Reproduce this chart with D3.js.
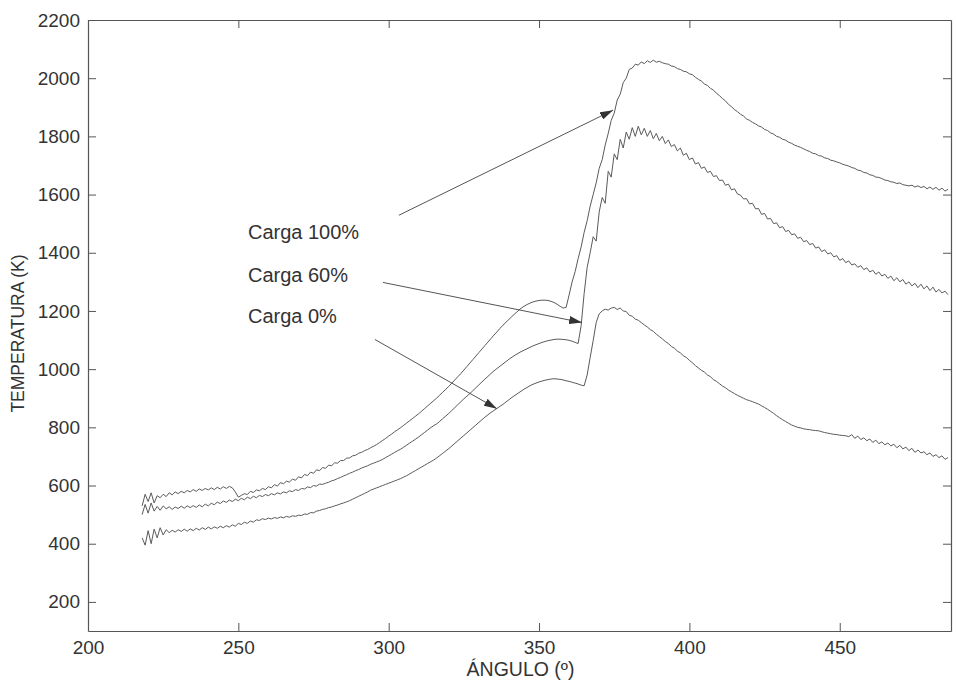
<!DOCTYPE html>
<html>
<head>
<meta charset="utf-8">
<script src="https://cdn.jsdelivr.net/npm/d3@7"></script>
<style>
  html, body { margin: 0; padding: 0; background: #fff; }
  svg { display: block; }
  text { font-family: "Liberation Sans", Arial, sans-serif; fill: #333; }
</style>
</head>
<body>
<svg id="chart" width="956" height="685"></svg>
<script>
// ---------------- DATA ----------------
const angleStart = 218, angleEnd = 486;            // sampled every 1 degree
const angles = d3.range(angleStart, angleEnd + 1, 1);

const xTicks = [200, 250, 300, 350, 400, 450];
const yTicks = [200, 400, 600, 800, 1000, 1200, 1400, 1600, 1800, 2000, 2200];

// Carga 100%
const carga100 = [
  530,570,545,575,540,565,558,570,562,575,   // 218
  568,578,572,580,575,583,578,586,580,588,   // 228
  583,590,585,592,586,594,588,596,590,597,   // 238
  592,578,560,566,572,569,580,576,585,582,   // 248
  590,586,596,592,603,598,610,606,615,612,   // 258
  622,618,630,626,638,634,646,642,654,651,   // 268
  662,659,670,668,678,677,686,686,694,695,   // 278
  702,704,711,714,720,724,730,735,741,748,   // 288
  755,762,770,777,785,792,799,807,815,823,   // 298
  831,839,847,856,865,874,883,892,901,911,   // 308
  921,931,941,952,963,974,985,997,1009,1021, // 318
  1033,1045,1057,1069,1081,1093,1105,1117,1128,1140, // 328
  1151,1161,1171,1181,1191,1200,1209,1216,1222,1227, // 338
  1231,1234,1236,1237,1237,1236,1233,1229,1223,1216, // 348
  1210,1212,1255,1300,1335,1380,1420,1470,1510,1560, // 358
  1600,1640,1690,1720,1770,1810,1855,1880,1925,1945, // 368
  1985,2000,2030,2035,2048,2045,2056,2050,2060,2054, // 378
  2062,2055,2058,2053,2050,2048,2042,2040,2033,2030, // 388
  2024,2022,2015,2012,2003,1996,1990,1980,1975,1965, // 398
  1959,1948,1940,1930,1922,1910,1902,1892,1885,1876, // 408
  1870,1860,1855,1848,1843,1836,1832,1824,1820,1812, // 418
  1808,1800,1797,1790,1787,1780,1776,1770,1766,1762, // 428
  1757,1752,1748,1742,1740,1734,1732,1726,1724,1718, // 438
  1716,1712,1709,1704,1701,1698,1693,1690,1684,1682, // 448
  1676,1674,1668,1666,1660,1659,1655,1650,1648,1644, // 458
  1642,1638,1640,1634,1632,1630,1632,1626,1630,1624, // 468
  1628,1620,1626,1618,1625,1615,1622,1612,1618       // 478
];

// Carga 60%
const carga60 = [
  500,535,505,540,512,528,515,530,520,527,   // 218
  518,526,521,529,522,530,524,531,525,533,   // 228
  527,536,530,539,534,543,538,547,542,550,   // 238
  545,553,548,556,551,560,555,563,558,566,   // 248
  562,569,565,572,568,575,571,578,575,582,   // 258
  579,586,583,590,588,595,593,600,598,605,   // 268
  604,608,611,616,619,624,628,633,637,642,   // 278
  646,651,655,660,664,668,673,677,681,685,   // 288
  690,696,702,708,714,720,725,732,739,746,   // 298
  753,760,767,775,783,791,799,806,812,821,   // 308
  830,839,848,858,868,878,888,898,907,916,   // 318
  926,936,946,956,966,975,985,994,1002,1010, // 328
  1018,1026,1034,1041,1048,1054,1060,1065,1070,1075, // 338
  1080,1084,1088,1092,1095,1098,1100,1102,1103,1103, // 348
  1102,1101,1099,1096,1092,1088,1150,1260,1350,1400, // 358
  1455,1440,1540,1590,1570,1680,1660,1740,1720,1790, // 368
  1760,1815,1790,1830,1800,1835,1805,1828,1800,1820, // 378
  1792,1810,1785,1800,1775,1788,1765,1772,1750,1760, // 388
  1735,1742,1720,1726,1705,1710,1690,1695,1676,1680, // 398
  1662,1665,1648,1650,1632,1636,1616,1620,1602,1598, // 408
  1585,1586,1568,1570,1551,1552,1532,1535,1516,1518, // 418
  1500,1503,1486,1490,1473,1477,1462,1465,1450,1453, // 428
  1438,1442,1428,1432,1416,1420,1404,1410,1396,1400, // 438
  1386,1390,1374,1380,1366,1372,1358,1362,1350,1356, // 448
  1342,1348,1334,1340,1326,1334,1320,1326,1312,1320, // 458
  1304,1314,1300,1308,1292,1300,1286,1295,1280,1292, // 468
  1276,1286,1270,1282,1265,1274,1262,1268,1256       // 478
];

// Carga 0%
const carga0 = [
  420,395,445,400,450,420,455,430,448,438,   // 218
  446,440,448,442,450,443,451,445,453,447,   // 228
  455,449,457,451,458,453,460,455,462,457,   // 238
  465,460,470,466,474,470,478,474,482,480,   // 248
  486,483,488,485,490,487,492,489,494,491,   // 258
  496,494,498,497,502,501,507,506,512,514,   // 268
  518,520,524,526,530,533,537,540,544,548,   // 278
  553,558,563,568,573,578,584,588,592,596,   // 288
  600,604,608,612,616,620,624,629,634,640,   // 298
  646,652,658,664,670,676,682,688,695,703,   // 308
  711,719,727,736,745,754,763,772,781,790,   // 318
  799,808,817,826,835,843,851,858,865,872,   // 328
  879,887,895,903,910,917,924,931,937,943,   // 338
  948,952,956,959,962,964,966,967,966,965,   // 348
  963,960,958,955,952,949,945,943,980,1040,  // 358
  1098,1160,1190,1200,1206,1203,1210,1212,1205,1210, // 368
  1200,1198,1185,1182,1172,1168,1160,1152,1145,1136, // 378
  1130,1120,1112,1104,1095,1088,1078,1072,1062,1056, // 388
  1046,1040,1030,1022,1012,1004,996,990,980,974,     // 398
  964,958,950,942,936,928,922,916,910,905,           // 408
  900,895,892,888,884,880,874,868,862,855,           // 418
  848,840,833,826,820,814,808,804,800,798,           // 428
  795,793,792,790,789,788,785,782,780,778,           // 438
  776,775,773,772,771,768,775,762,770,758,           // 448
  764,754,760,748,756,744,750,740,746,736,           // 458
  742,730,738,726,732,720,728,714,722,712,           // 468
  716,706,712,700,706,696,702,690,696                // 478
];

// Annotations (data coordinates): label anchor and arrow from/to
const annLabels = ["Carga 100%", "Carga 60%", "Carga 0%"];
const annLabelX = [253.2, 253.2, 253.2];
const annLabelY = [1446, 1298, 1157];
const arrowFrom = [[303.4, 1529], [298.1, 1298], [295.4, 1102]];
const arrowTo   = [[374.6, 1890], [364.3, 1160], [336.0, 864]];

const xTitle = "ÁNGULO (º)";
const yTitle = "TEMPERATURA (K)";

// ---------------- CHART ----------------
(function draw() {
  const svg = d3.select("#chart");
  const W = 956, H = 685;
  const pL = 88, pR = 951, pT = 20, pB = 631;

  const x = d3.scaleLinear().domain([200, 487]).range([pL, pR]);
  const y = d3.scaleLinear().domain([100, 2200]).range([pB, pT]);

  svg.append("rect").attr("width", W).attr("height", H).attr("fill", "#fff");

  const axisColor = "#555";
  const tickFont = "19px";

  const gL = svg.append("g").attr("transform", `translate(${pL},0)`)
    .call(d3.axisLeft(y).tickValues(yTicks).tickSize(-8).tickSizeOuter(0).tickPadding(8).tickFormat(d3.format("d")));
  const gB = svg.append("g").attr("transform", `translate(0,${pB})`)
    .call(d3.axisBottom(x).tickValues(xTicks).tickSize(-8).tickSizeOuter(0).tickPadding(10).tickFormat(d3.format("d")));
  const gT = svg.append("g").attr("transform", `translate(0,${pT})`)
    .call(d3.axisTop(x).tickValues(xTicks).tickSize(-8).tickSizeOuter(0).tickFormat(""));
  const gR = svg.append("g").attr("transform", `translate(${pR},0)`)
    .call(d3.axisRight(y).tickValues(yTicks).tickSize(-8).tickSizeOuter(0).tickFormat(""));

  [gL, gB, gT, gR].forEach(g => {
    g.selectAll("path.domain").attr("stroke", axisColor).attr("stroke-width", 1.2);
    g.selectAll(".tick line").attr("stroke", axisColor).attr("stroke-width", 1);
    g.selectAll(".tick text").style("font-family", '"Liberation Sans", Arial, sans-serif')
      .style("font-size", tickFont).attr("fill", "#333");
  });

  // Series lines
  const line = d3.line().x((d, i) => x(angles[i])).y(d => y(d));
  [carga100, carga60, carga0].forEach(s => {
    svg.append("path").datum(s)
      .attr("d", line)
      .attr("fill", "none")
      .attr("stroke", "#5a5a5a")
      .attr("stroke-width", 1)
      .attr("stroke-linejoin", "round");
  });

  // Arrow marker
  svg.append("defs").append("marker")
    .attr("id", "arrowhead")
    .attr("viewBox", "0 0 13 8")
    .attr("refX", 13).attr("refY", 4)
    .attr("markerWidth", 13).attr("markerHeight", 8)
    .attr("markerUnits", "userSpaceOnUse")
    .attr("orient", "auto")
    .append("path").attr("d", "M0,0 L13,4 L0,8 Z").attr("fill", "#333");

  arrowFrom.forEach((f, i) => {
    const t = arrowTo[i];
    svg.append("line")
      .attr("x1", x(f[0])).attr("y1", y(f[1]))
      .attr("x2", x(t[0])).attr("y2", y(t[1]))
      .attr("stroke", "#555").attr("stroke-width", 1)
      .attr("marker-end", "url(#arrowhead)");
  });

  annLabels.forEach((lab, i) => {
    svg.append("text")
      .attr("x", x(annLabelX[i])).attr("y", y(annLabelY[i]))
      .style("font-size", "20px")
      .text(lab);
  });

  // Axis titles
  svg.append("text")
    .attr("x", (pL + pR) / 2 + 1).attr("y", 676)
    .attr("text-anchor", "middle")
    .style("font-size", "19.5px")
    .text(xTitle);

  svg.append("text")
    .attr("transform", `translate(24,${(pT + pB) / 2 + 8}) rotate(-90)`)
    .attr("text-anchor", "middle")
    .style("font-size", "17.5px")
    .text(yTitle);
})();
</script>
</body>
</html>
